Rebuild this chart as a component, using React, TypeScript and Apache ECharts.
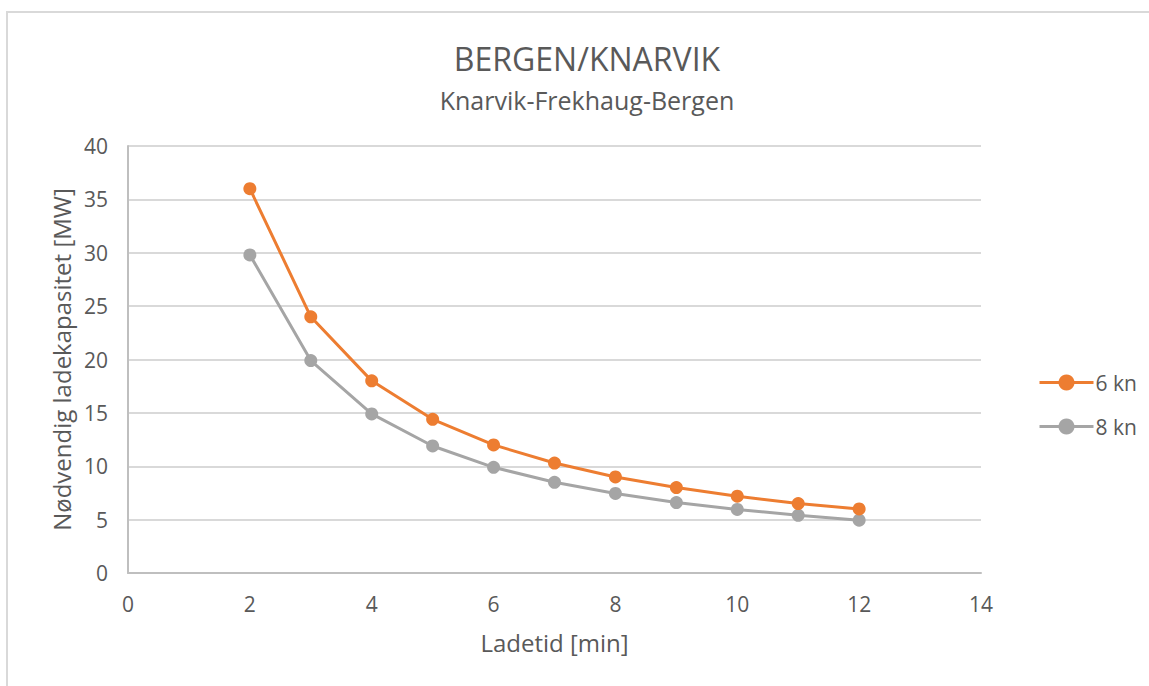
import React, { useEffect, useRef } from "react";
import * as echarts from "echarts";

const xValues = [2, 3, 4, 5, 6, 7, 8, 9, 10, 11, 12];
const kn6 = [36, 24, 18, 14.4, 12, 10.3, 9, 8, 7.2, 6.5, 6];
const kn8 = [29.8, 19.9, 14.9, 11.9, 9.9, 8.5, 7.45, 6.6, 5.95, 5.4, 4.95];
const seriesNames = ["6 kn", "8 kn"];
const titleText = "BERGEN/KNARVIK";
const subtitleText = "Knarvik-Frekhaug-Bergen";
const xAxisName = "Ladetid [min]";
const yAxisName = "Nødvendig ladekapasitet [MW]";

const FONT = "'Open Sans', sans-serif";
const TEXT = "#595959";

export default function App() {
  const ref = useRef<HTMLDivElement>(null);
  useEffect(() => {
    if (!ref.current) return;
    const chart = echarts.init(ref.current, null, { renderer: "svg" });
    const mk = (vals: number[]) => xValues.map((x, i) => [x, vals[i]]);
    chart.setOption({
      animation: false,
      backgroundColor: "#ffffff",
      textStyle: { fontFamily: FONT },
      graphic: [
        {
          type: "rect",
          shape: { x: 7, y: 12, width: 1170, height: 700 },
          style: { fill: "none", stroke: "#d9d9d9", lineWidth: 2 },
          silent: true,
        },
      ],
      title: {
        text: titleText,
        subtext: subtitleText,
        left: 582,
        textAlign: "center",
        top: 37,
        itemGap: 13,
        textStyle: { fontFamily: FONT, fontSize: 32, fontWeight: "normal", color: TEXT },
        subtextStyle: { fontFamily: FONT, fontSize: 25, color: TEXT },
      },
      legend: {
        orient: "vertical",
        left: 1033,
        top: 367,
        itemWidth: 54,
        itemHeight: 20,
        itemGap: 23,
        lineStyle: { width: 3 },
        textStyle: { fontFamily: FONT, fontSize: 21, color: TEXT, padding: [0, 0, 0, -3] },
        data: seriesNames,
      },
      grid: { left: 128, right: 168, top: 146, bottom: 113 },
      xAxis: {
        type: "value",
        min: 0,
        max: 14,
        interval: 2,
        name: xAxisName,
        nameLocation: "middle",
        nameGap: 57,
        nameTextStyle: { fontFamily: FONT, fontSize: 24, color: TEXT },
        axisLine: { lineStyle: { color: "#bfbfbf", width: 2 } },
        axisTick: { show: false },
        axisLabel: { margin: 20, fontFamily: FONT, fontSize: 21, color: TEXT },
        splitLine: { show: false },
      },
      yAxis: {
        type: "value",
        min: 0,
        max: 40,
        interval: 5,
        name: yAxisName,
        nameLocation: "middle",
        nameGap: 53,
        nameTextStyle: { fontFamily: FONT, fontSize: 24, color: TEXT },
        axisLine: { show: true, lineStyle: { color: "#bfbfbf", width: 2 } },
        axisTick: { show: false },
        axisLabel: { margin: 20, fontFamily: FONT, fontSize: 21, color: TEXT },
        splitLine: { lineStyle: { color: "#d9d9d9", width: 2 } },
      },
      series: [
        {
          name: seriesNames[0],
          type: "line",
          data: mk(kn6),
          symbol: "circle",
          symbolSize: 13,
          color: "#ed7d31",
          lineStyle: { width: 3, color: "#ed7d31" },
          itemStyle: { color: "#ed7d31" },
          z: 3,
        },
        {
          name: seriesNames[1],
          type: "line",
          data: mk(kn8),
          symbol: "circle",
          symbolSize: 13,
          color: "#a5a5a5",
          lineStyle: { width: 3, color: "#a5a5a5" },
          itemStyle: { color: "#a5a5a5" },
          z: 2,
        },
      ],
    });
    return () => chart.dispose();
  }, []);
  return (
    <div
      ref={ref}
      style={{ position: "absolute", left: 0, top: 0, width: 1149, height: 686 }}
    />
  );
}
